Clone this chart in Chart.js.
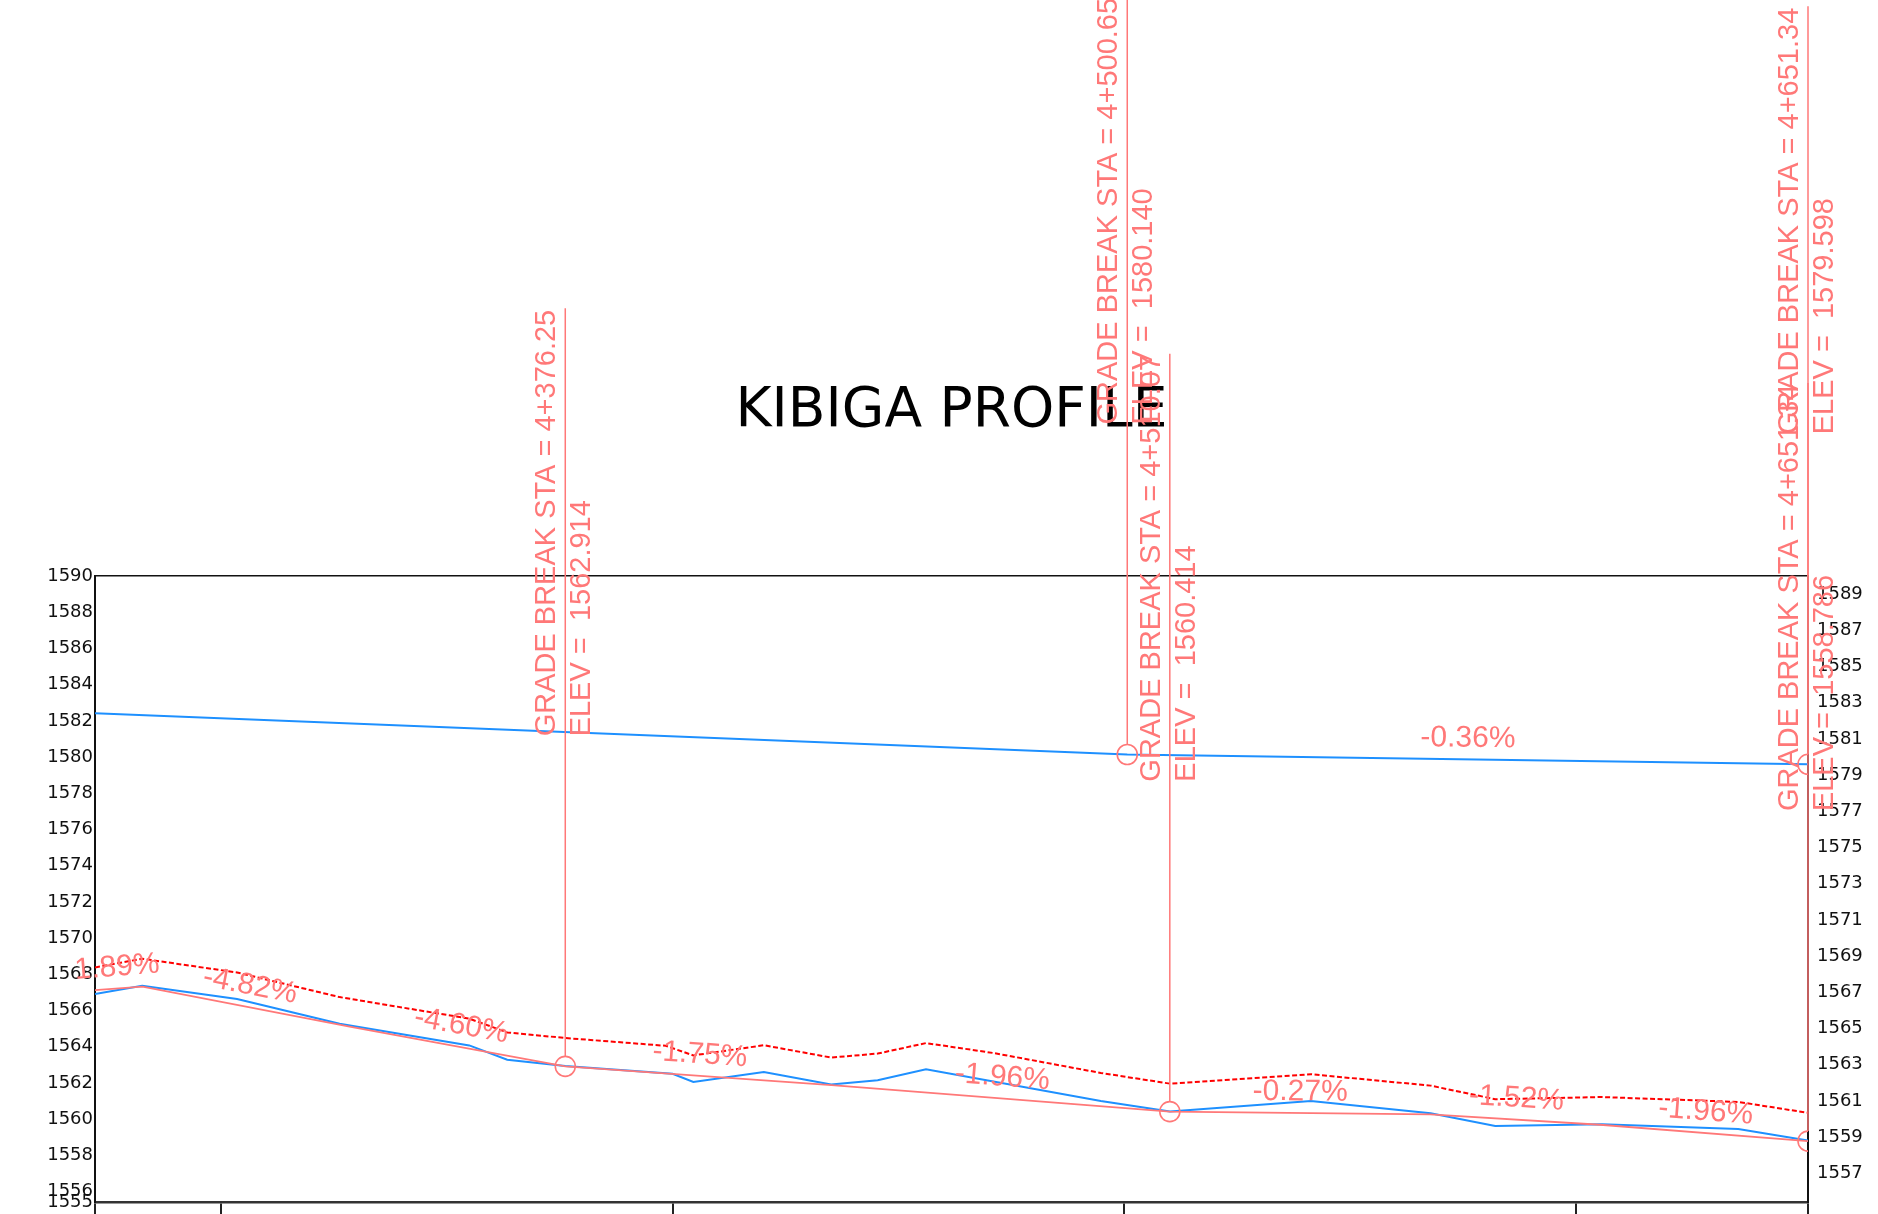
<!DOCTYPE html>
<html>
<head>
<meta charset="utf-8">
<title>KIBIGA PROFILE</title>
<script src="https://cdn.jsdelivr.net/npm/chart.js@4.4.1/dist/chart.umd.min.js"></script>
<style>
  html, body { margin: 0; padding: 0; background: #fff; overflow: hidden; }
  #wrap { width: 1878px; height: 1214px; }
</style>
</head>
<body>
<div id="wrap"><canvas id="profile" width="1878" height="1214"></canvas></div>
<script>
// stations in metres (4+376.25 -> 4376.25), elevations in metres
const staMin = 4272.15;
const staMax = 4651.34;
const elevMin = 1555.4;
const elevMax = 1590;

const stationTicks = [4300, 4400, 4500, 4600];
const leftTicks = [1556, 1558, 1560, 1562, 1564, 1566, 1568, 1570, 1572, 1574, 1576, 1578, 1580, 1582, 1584, 1586, 1588, 1590];
const rightTicks = [1557, 1559, 1561, 1563, 1565, 1567, 1569, 1571, 1573, 1575, 1577, 1579, 1581, 1583, 1585, 1587, 1589];

// existing ground (blue)
const groundSta = [4272.15, 4282.6, 4303.6, 4326.3, 4355.0, 4363.4, 4376.25, 4400.0, 4404.6, 4420.2, 4435.1, 4445.4, 4456.1, 4494.8, 4510.1, 4541.3, 4567.8, 4582.1, 4605.7, 4635.9, 4651.34];
const groundElev = [1566.91, 1567.37, 1566.63, 1565.27, 1564.07, 1563.28, 1562.93, 1562.50, 1562.05, 1562.60, 1561.91, 1562.15, 1562.75, 1561.00, 1560.42, 1561.00, 1560.32, 1559.62, 1559.72, 1559.45, 1558.82];

// offset ground (red dashed)
const offsetSta = [4272.15, 4282.6, 4303.6, 4326.3, 4355.0, 4363.4, 4376.25, 4398.5, 4404.6, 4420.2, 4435.1, 4445.4, 4456.1, 4471.1, 4494.8, 4510.1, 4541.3, 4567.8, 4582.1, 4605.7, 4635.9, 4651.34];
const offsetElev = [1568.38, 1568.86, 1568.10, 1566.74, 1565.55, 1564.79, 1564.48, 1564.05, 1563.52, 1564.08, 1563.40, 1563.62, 1564.20, 1563.65, 1562.55, 1561.96, 1562.48, 1561.85, 1561.10, 1561.22, 1560.95, 1560.35];

// design profile (pink) and its grades per segment
const designSta = [4272.15, 4282.65, 4328.5, 4376.25, 4435.2, 4510.07, 4567.7, 4605.3, 4651.34];
const designElev = [1567.12, 1567.32, 1565.11, 1562.914, 1561.88, 1560.414, 1560.26, 1559.69, 1558.786];
const designGrades = ['1.89%', '-4.82%', '-4.60%', '-1.75%', '-1.96%', '-0.27%', '-1.52%', '-1.96%'];

// upper profile (blue)
const upperSta = [4272.15, 4500.65, 4651.34];
const upperElev = [1582.42, 1580.14, 1579.598];
const upperGrades = ['', '-0.36%'];

// grade break markers
const breakSta = [4376.25, 4500.65, 4510.07, 4651.34, 4651.34];
const breakElev = [1562.914, 1580.140, 1560.414, 1579.598, 1558.786];

const PINK = 'rgb(255, 120, 120)';
const BLUE = 'rgb(30, 144, 255)';
const LABEL_FONT = '"Liberation Sans", Arial, sans-serif';

const toPoints = (sta, elev) => sta.map((s, i) => ({ x: s, y: elev[i] }));
const staText = s => Math.floor(s / 1000) + '+' + (s % 1000).toFixed(2);

const gradeBreakPlugin = {
  id: 'gradeBreaks',
  afterDatasetsDraw(chart) {
    const { ctx, scales: { x, y } } = chart;
    ctx.save();

    // grade labels sit above the middle of each segment
    ctx.font = '30px ' + LABEL_FONT;
    ctx.fillStyle = PINK;
    ctx.textAlign = 'center';
    ctx.textBaseline = 'middle';
    const drawGrades = (sta, elev, grades) => {
      grades.forEach((txt, i) => {
        if (!txt) return;
        const x1 = x.getPixelForValue(sta[i]), y1 = y.getPixelForValue(elev[i]);
        const x2 = x.getPixelForValue(sta[i + 1]), y2 = y.getPixelForValue(elev[i + 1]);
        const ang = Math.atan2(y2 - y1, x2 - x1);
        const mx = (x1 + x2) / 2 + 21 * Math.sin(ang);
        const my = (y1 + y2) / 2 - 21 * Math.cos(ang);
        ctx.save();
        ctx.translate(mx, my);
        ctx.rotate(ang);
        ctx.fillText(txt, 0, 0);
        ctx.restore();
      });
    };
    drawGrades(designSta, designElev, designGrades);
    drawGrades(upperSta, upperElev, upperGrades);

    // vertical leader + rotated text for each grade break
    ctx.font = '29px ' + LABEL_FONT;
    ctx.textAlign = 'left';
    ctx.textBaseline = 'alphabetic';
    ctx.strokeStyle = PINK;
    ctx.lineWidth = 1.5;
    breakSta.forEach((s, i) => {
      const px = x.getPixelForValue(s);
      const py = y.getPixelForValue(breakElev[i]);
      ctx.beginPath();
      ctx.moveTo(px, py - 758);
      ctx.lineTo(px, py - 10);
      ctx.stroke();

      ctx.save();
      ctx.translate(px - 10, py - 330);
      ctx.rotate(-Math.PI / 2);
      ctx.fillText('GRADE BREAK STA = ' + staText(s), 0, 0);
      ctx.restore();

      ctx.save();
      ctx.translate(px + 25, py - 330);
      ctx.rotate(-Math.PI / 2);
      ctx.fillText('ELEV =  ' + breakElev[i].toFixed(3), 0, 0);
      ctx.restore();
    });
    ctx.restore();
  }
};

// let the elevation labels run past the plot edges, as in the drawing
const noLabelPadding = scale => {
  scale.paddingTop = 0;
  scale.paddingBottom = 0;
};

const ctx = document.getElementById('profile');

new Chart(ctx, {
  type: 'line',
  data: {
    datasets: [
      {
        label: 'Grade breaks',
        data: toPoints(breakSta, breakElev),
        showLine: false,
        pointRadius: 10,
        pointBorderWidth: 1.6,
        pointBorderColor: PINK,
        pointBackgroundColor: 'rgba(0,0,0,0)',
        order: 0,
      },
      {
        label: 'Design',
        data: toPoints(designSta, designElev),
        borderColor: PINK,
        borderWidth: 1.8,
        pointRadius: 0,
        order: 1,
      },
      {
        label: 'Offset',
        data: toPoints(offsetSta, offsetElev),
        borderColor: 'rgb(255, 0, 0)',
        borderWidth: 2,
        borderDash: [5, 2.5],
        pointRadius: 0,
        order: 2,
      },
      {
        label: 'Existing ground',
        data: toPoints(groundSta, groundElev),
        borderColor: BLUE,
        borderWidth: 2,
        pointRadius: 0,
        order: 3,
      },
      {
        label: 'Upper profile',
        data: toPoints(upperSta, upperElev),
        borderColor: BLUE,
        borderWidth: 2,
        pointRadius: 0,
        order: 4,
      },
    ],
  },
  options: {
    responsive: false,
    devicePixelRatio: 1,
    animation: false,
    layout: { padding: 0 },
    plugins: {
      legend: { display: false },
      tooltip: { enabled: false },
      title: {
        display: true,
        text: 'KIBIGA PROFILE',
        fullSize: false,
        color: '#000',
        font: { family: '"DejaVu Sans", Verdana, sans-serif', size: 55, weight: 'normal', lineHeight: 1.2 },
        padding: { top: 379, bottom: 131 },
      },
    },
    scales: {
      x: {
        type: 'linear',
        position: 'bottom',
        min: staMin,
        max: staMax,
        afterBuildTicks: scale => {
          scale.ticks = [staMin, ...stationTicks, staMax].map(v => ({ value: v }));
        },
        afterFit: scale => {
          scale.height = 7;
          scale.paddingLeft = 0;
          scale.paddingRight = 0;
        },
        ticks: { display: false },
        grid: { drawOnChartArea: false, drawTicks: true, tickLength: 14, color: '#222', lineWidth: 2 },
        border: { display: true, color: '#333', width: 2.5 },
      },
      xTop: {
        type: 'linear',
        position: 'top',
        min: staMin,
        max: staMax,
        afterFit: scale => { scale.height = 0; },
        ticks: { display: false },
        grid: { display: false, drawTicks: false },
        border: { display: true, color: '#111', width: 1.5 },
      },
      y: {
        type: 'linear',
        position: 'left',
        min: elevMin,
        max: elevMax,
        afterBuildTicks: scale => {
          scale.ticks = [elevMin, ...leftTicks].map(v => ({ value: v }));
        },
        afterFit: scale => {
          scale.width = 95;
          noLabelPadding(scale);
        },
        ticks: {
          autoSkip: false,
          padding: 2,
          color: '#111',
          font: { family: '"DejaVu Sans", Verdana, sans-serif', size: 18 },
          callback: v => String(Math.floor(v)),
        },
        grid: { display: false, drawTicks: false },
        border: { display: true, color: '#111', width: 2 },
      },
      yRight: {
        type: 'linear',
        position: 'right',
        min: elevMin,
        max: elevMax,
        afterBuildTicks: scale => {
          scale.ticks = rightTicks.map(v => ({ value: v }));
        },
        afterFit: scale => {
          scale.width = 70;
          noLabelPadding(scale);
        },
        ticks: {
          autoSkip: false,
          padding: 9,
          color: '#111',
          font: { family: '"DejaVu Sans", Verdana, sans-serif', size: 18 },
          callback: v => String(v),
        },
        grid: { display: false, drawTicks: false },
        border: { display: true, color: '#111', width: 2 },
      },
    },
  },
  plugins: [gradeBreakPlugin],
});
</script>
</body>
</html>
